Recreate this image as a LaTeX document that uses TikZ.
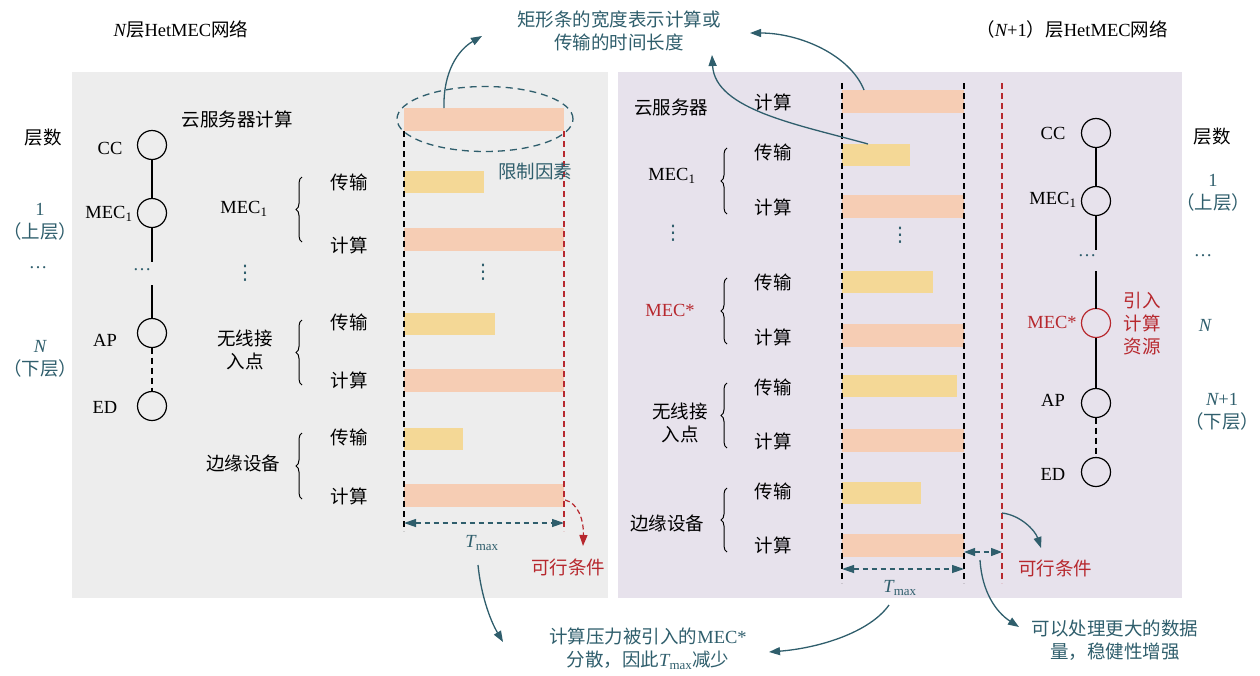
\documentclass[tikz,border=0pt]{standalone}
\usepackage{fontspec}
\setmainfont{Liberation Serif}
\newfontfamily\zhf{Noto Sans CJK SC}
\newfontfamily\djv{DejaVu Sans}
\usetikzlibrary{arrows.meta,decorations.pathreplacing,shapes.geometric}
\definecolor{bgL}{HTML}{EDEDED}
\definecolor{bgR}{HTML}{E7E2EC}
\definecolor{obar}{HTML}{F6CDB4}
\definecolor{ybar}{HTML}{F4D896}
\definecolor{tl}{HTML}{2F5E6C}
\definecolor{rd}{HTML}{B7282E}
\newcommand{\zh}[1]{{\zhf #1}}
\newcommand{\fs}{\fontsize{18.5}{23}\selectfont}
\newcommand{\tmax}{{\itshape T}\textsubscript{max}}
\newcommand{\vdt}{{\djv\fontsize{20}{22}\selectfont ⋮}}
\newcommand{\hdt}{…}
\begin{document}
\begin{tikzpicture}[x=1pt,y=-1pt,
  every node/.style={inner sep=0pt, outer sep=0pt},
  txt/.style={font=\fs, align=center, text=black},
  tltxt/.style={txt, text=tl},
  rdtxt/.style={txt, text=rd},
  zht/.style={txt, font=\fs\zhf},
  tlzh/.style={zht, text=tl},
  rdzh/.style={zht, text=rd},
  panel/.style={anchor=north west, minimum height=526pt},
  cbar/.style={anchor=north west, fill=obar, minimum height=23pt},
  tbar/.style={anchor=north west, fill=ybar, minimum height=22pt},
  lay/.style={circle, draw=black, line width=1.2pt, minimum size=29pt},
  link/.style={line width=1.1pt},
  vdash/.style={line width=1.1pt, dash pattern=on 6pt off 4pt},
  cbrace/.style={decorate, decoration={brace, amplitude=6pt}, line width=1pt},
  tarr/.style={draw=tl, line width=1.3pt, -{Triangle[length=11pt,width=8pt]}},
  rarr/.style={draw=rd, line width=1.2pt, dash pattern=on 5pt off 3pt, -{Triangle[length=11pt,width=8pt]}},
  dimarr/.style={draw=tl, line width=1.2pt, dash pattern=on 5pt off 4pt, {Triangle[length=12pt,width=8pt]}-{Triangle[length=12pt,width=8pt]}},
]
\useasboundingbox (0,0) rectangle (1260,675);

% panels
\node[panel, fill=bgL, minimum width=536pt] (panelL) at (72,72) {};
\node[panel, fill=bgR, minimum width=564pt] (panelR) at (618,72) {};

% titles
\node[txt] (titleL) at (181,29) {{\itshape N}\zh{层}HetMEC\zh{网络}};
\node[txt] (titleR) at (1072,29) {\zh{（}{\itshape N}+1\zh{）层}HetMEC\zh{网络}};
\node[tlzh] (topnote) at (619,31) {矩形条的宽度表示计算或\\传输的时间长度};

% ---------------- left panel ----------------
\node[zht] (lcs) at (43,138) {层数};
\node[tltxt] (l1) at (40,209) {1};
\node[tlzh] (l1t) at (40,231) {（上层）};
\node[tltxt] (ldots) at (38,268) {\hdt};
\node[tltxt] (lN) at (40,346) {\itshape N};
\node[tlzh] (lNt) at (40,368) {（下层）};

\node[lay] (LCC) at (152,145) {};
\node[lay] (LMEC) at (152,213) {};
\node[lay] (LAP) at (152,333) {};
\node[lay] (LED) at (152,406) {};
\node[txt] (LCCt) at (110,148) {CC};
\node[txt] (LMECt) at (109,214) {MEC\textsubscript{1}};
\node[txt] (LAPt) at (105,340) {AP};
\node[txt] (LEDt) at (105,407) {ED};
\node[tltxt] (Lcd) at (142,270) {\hdt};
\coordinate (Lg1) at (152,262);
\coordinate (Lg2) at (152,285);
\draw[link] (LCC) -- (LMEC);
\draw[link] (LMEC) -- (Lg1);
\draw[link] (Lg2) -- (LAP);
\draw[link, dash pattern=on 6pt off 4pt] (LAP) -- (LED);

\node[zht] (Lcloud) at (237,119) {云服务器计算};
\node[txt] (Lmec1) at (244,209) {MEC\textsubscript{1}};
\node[text=tl] (Lvd1) at (245,273) {\vdt};
\node[zht] (Lap) at (245,350) {无线接\\入点};
\node[zht] (Led) at (243,463) {边缘设备};
\draw[cbrace] (302,242) -- (302,177);
\draw[cbrace] (302,385) -- (302,320);
\draw[cbrace] (302,499) -- (302,433);

\node[zht] (Lt1) at (349,182) {传输};
\node[zht] (Lc1) at (349,245) {计算};
\node[zht] (Lt2) at (349,322) {传输};
\node[zht] (Lc2) at (349,380) {计算};
\node[zht] (Lt3) at (349,437) {传输};
\node[zht] (Lc3) at (349,496) {计算};
\node[text=tl] (Lvd2) at (483,272) {\vdt};

\node[cbar, minimum width=160pt] (LB0) at (404,108) {};
\node[tbar, minimum width=80pt]  (LB1) at (404,171) {};
\node[cbar, minimum width=160pt] (LB2) at (404,228) {};
\node[tbar, minimum width=91pt]  (LB3) at (404,313) {};
\node[cbar, minimum width=160pt] (LB4) at (404,369) {};
\node[tbar, minimum width=59pt]  (LB5) at (404,428) {};
\node[cbar, minimum width=160pt] (LB6) at (404,484) {};

\coordinate (Lv1a) at (404,131); \coordinate (Lv1b) at (404,531);
\coordinate (Lv2a) at (564,131); \coordinate (Lv2b) at (564,531);
\draw[vdash] (Lv1a) -- (Lv1b);
\draw[vdash, draw=rd] (Lv2a) -- (Lv2b);

\node[ellipse, draw=tl, line width=1.3pt, dash pattern=on 7pt off 5pt, minimum width=176pt, minimum height=65pt] (ell) at (485,119) {};
\node[tlzh] (limit) at (535,171) {限制因素};

\coordinate (Ld1) at (404,523); \coordinate (Ld2) at (564,523);
\draw[dimarr] (Ld1) -- (Ld2);
\node[tltxt] (LTm) at (482,543) {\tmax};

\coordinate (Lra) at (565,500); \coordinate (Lrb) at (583,546);
\draw[rarr] (Lra) .. controls (578,503) and (584,520) .. (Lrb);
\node[rdzh] (Lfeas) at (568,567) {可行条件};

% ---------------- right panel ----------------
\node[zht] (Rcloud) at (671,107) {云服务器};
\node[txt] (Rmec1) at (672,176) {MEC\textsubscript{1}};
\node[text=tl] (Rvd1) at (673,233) {\vdt};
\node[txt, text=rd] (Rmecs) at (670,310) {MEC*};
\node[zht] (Rap) at (680,423) {无线接\\入点};
\node[zht] (Red) at (667,523) {边缘设备};
\draw[cbrace] (727,214) -- (727,148);
\draw[cbrace] (727,344) -- (727,278);
\draw[cbrace] (727,448) -- (727,383);
\draw[cbrace] (727,552) -- (727,488);

\node[zht] (Rc0) at (773,102) {计算};
\node[zht] (Rt1) at (773,152) {传输};
\node[zht] (Rc1) at (773,207) {计算};
\node[zht] (Rt2) at (773,282) {传输};
\node[zht] (Rc2) at (773,337) {计算};
\node[zht] (Rt3) at (773,387) {传输};
\node[zht] (Rc3) at (773,441) {计算};
\node[zht] (Rt4) at (773,491) {传输};
\node[zht] (Rc4) at (773,545) {计算};
\node[text=tl] (Rvd2) at (900,235) {\vdt};

\node[cbar, minimum width=122pt] (RB0) at (842,90) {};
\node[tbar, minimum width=68pt]  (RB1) at (842,144) {};
\node[cbar, minimum width=122pt] (RB2) at (842,195) {};
\node[tbar, minimum width=91pt]  (RB3) at (842,271) {};
\node[cbar, minimum width=122pt] (RB4) at (842,324) {};
\node[tbar, minimum width=115pt] (RB5) at (842,375) {};
\node[cbar, minimum width=122pt] (RB6) at (842,429) {};
\node[tbar, minimum width=79pt]  (RB7) at (842,482) {};
\node[cbar, minimum width=122pt] (RB8) at (842,534) {};

\coordinate (Rv1a) at (842,83); \coordinate (Rv1b) at (842,583);
\coordinate (Rv2a) at (964,83); \coordinate (Rv2b) at (964,583);
\coordinate (Rv3a) at (1002,83); \coordinate (Rv3b) at (1002,583);
\draw[vdash] (Rv1a) -- (Rv1b);
\draw[vdash] (Rv2a) -- (Rv2b);
\draw[vdash, draw=rd] (Rv3a) -- (Rv3b);

\coordinate (Rd1) at (842,569); \coordinate (Rd2) at (964,569);
\draw[dimarr] (Rd1) -- (Rd2);
\node[tltxt] (RTm) at (900,588) {\tmax};
\coordinate (Re1) at (964,552); \coordinate (Re2) at (1002,552);
\draw[dimarr, {Triangle[length=11pt,width=8pt]}-{Triangle[length=11pt,width=8pt]}] (Re1) -- (Re2);

\node[lay] (RCC) at (1096,133) {};
\node[lay] (RMEC) at (1096,201) {};
\node[lay, draw=rd] (RMECs) at (1096,323) {};
\node[lay] (RAP) at (1096,403) {};
\node[lay] (RED) at (1096,472) {};
\node[txt] (RCCt) at (1053,133) {CC};
\node[txt] (RMECt) at (1053,200) {MEC\textsubscript{1}};
\node[txt, text=rd] (RMECst) at (1052,322) {MEC*};
\node[txt] (RAPt) at (1053,400) {AP};
\node[txt] (REDt) at (1053,474) {ED};
\node[tltxt] (Rcd) at (1087,256) {\hdt};
\coordinate (Rg1) at (1096,250);
\coordinate (Rg2) at (1096,271);
\draw[link] (RCC) -- (RMEC);
\draw[link] (RMEC) -- (Rg1);
\draw[link] (Rg2) -- (RMECs);
\draw[link] (RMECs) -- (RAP);
\draw[link, dash pattern=on 6pt off 4pt] (RAP) -- (RED);
\node[rdzh, align=left] (Rnew) at (1142,324) {引入\\计算\\资源};

\node[zht] (rcs) at (1212,137) {层数};
\node[tltxt] (r1) at (1213,180) {1};
\node[tlzh] (r1t) at (1213,202) {（上层）};
\node[tltxt] (rdots) at (1203,256) {\hdt};
\node[tltxt] (rN) at (1205,325) {\itshape N};
\node[tltxt] (rN1) at (1222,399) {{\itshape N}+1};
\node[tlzh] (rN1t) at (1222,421) {（下层）};

\node[rdzh] (Rfeas) at (1055,568) {可行条件};

% ---------------- annotations ----------------
\node[tltxt] (bnote) at (648,649) {\zh{计算压力被引入的}MEC*\\\zh{分散，因此}\tmax\zh{减少}};
\node[tlzh] (rnote) at (1115,640) {可以处理更大的数据\\量，稳健性增强};

\coordinate (A1s) at (444,108); \coordinate (A1e) at (482,36);
\draw[tarr] (A1s) .. controls (443,72) and (458,50) .. (A1e);
\coordinate (A2s) at (864,90); \coordinate (A2e) at (750,33);
\draw[tarr] (A2s) .. controls (850,55) and (800,33) .. (A2e);
\coordinate (A3s) at (868,144); \coordinate (A3e) at (712,55);
\draw[tarr] (A3s) .. controls (800,125) and (715,110) .. (A3e);
\coordinate (A4s) at (478,565); \coordinate (A4e) at (503,642);
\draw[tarr] (A4s) .. controls (481,595) and (490,620) .. (A4e);
\coordinate (A5s) at (889,605); \coordinate (A5e) at (769,652);
\draw[tarr] (A5s) .. controls (870,632) and (820,648) .. (A5e);
\coordinate (A6s) at (980,560); \coordinate (A6e) at (1019,627);
\draw[tarr] (A6s) .. controls (982,592) and (996,612) .. (A6e);
\coordinate (A7s) at (1002,513); \coordinate (A7e) at (1041,548);
\draw[tarr] (A7s) .. controls (1020,515) and (1035,530) .. (A7e);
\end{tikzpicture}
\end{document}
